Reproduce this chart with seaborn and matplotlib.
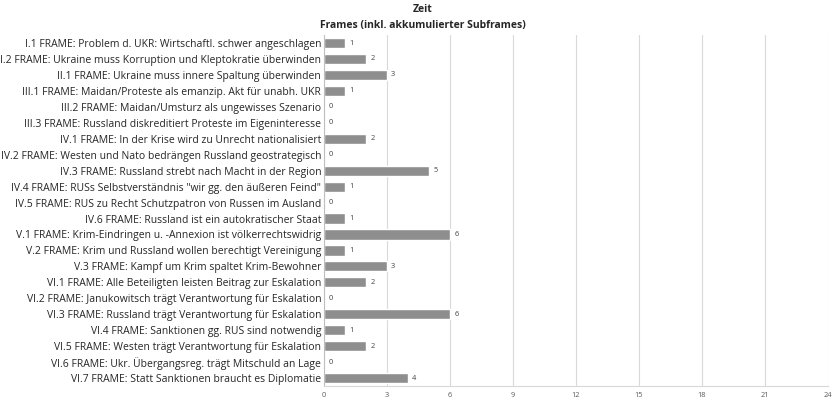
import matplotlib
matplotlib.use("Agg")
import matplotlib.pyplot as plt
import seaborn as sns
import pandas as pd

frames = [
    "I.1 FRAME: Problem d. UKR: Wirtschaftl. schwer angeschlagen",
    "I.2 FRAME: Ukraine muss Korruption und Kleptokratie überwinden",
    "II.1 FRAME: Ukraine muss innere Spaltung überwinden",
    "III.1 FRAME: Maidan/Proteste als emanzip. Akt für unabh. UKR",
    "III.2 FRAME: Maidan/Umsturz als ungewisses Szenario",
    "III.3 FRAME: Russland diskreditiert Proteste im Eigeninteresse",
    "IV.1 FRAME: In der Krise wird zu Unrecht nationalisiert",
    "IV.2 FRAME: Westen und Nato bedrängen Russland geostrategisch",
    "IV.3 FRAME: Russland strebt nach Macht in der Region",
    "IV.4 FRAME: RUSs Selbstverständnis \"wir gg. den äußeren Feind\"",
    "IV.5 FRAME: RUS zu Recht Schutzpatron von Russen im Ausland",
    "IV.6 FRAME: Russland ist ein autokratischer Staat",
    "V.1 FRAME: Krim-Eindringen u. -Annexion ist völkerrechtswidrig",
    "V.2 FRAME: Krim und Russland wollen berechtigt Vereinigung",
    "V.3 FRAME: Kampf um Krim spaltet Krim-Bewohner",
    "VI.1 FRAME: Alle Beteiligten leisten Beitrag zur Eskalation",
    "VI.2 FRAME: Janukowitsch trägt Verantwortung für Eskalation",
    "VI.3 FRAME: Russland trägt Verantwortung für Eskalation",
    "VI.4 FRAME: Sanktionen gg. RUS sind notwendig",
    "VI.5 FRAME: Westen trägt Verantwortung für Eskalation",
    "VI.6 FRAME: Ukr. Übergangsreg. trägt Mitschuld an Lage",
    "VI.7 FRAME: Statt Sanktionen braucht es Diplomatie",
]
counts = [1, 2, 3, 1, 0, 0, 2, 0, 5, 1, 0, 1, 6, 1, 3, 2, 0, 6, 1, 2, 0, 4]
x_ticks = [0, 3, 6, 9, 12, 15, 18, 21, 24]

df = pd.DataFrame({"Frame": frames, "Anzahl": counts})

sns.set_style("white")
plt.rcParams["font.family"] = ["Open Sans", "DejaVu Sans"]

fig = plt.figure(figsize=(8.35, 3.98), dpi=100)
ax = fig.add_axes([0.388, 0.030, 0.6036, 0.882])

sns.barplot(data=df, x="Anzahl", y="Frame", orient="h", color="#8e8e8e",
            saturation=1, width=0.64, ax=ax)

ax.bar_label(ax.containers[0], labels=[str(v) for v in counts],
             padding=3, fontsize=5.3, color="#404040")

ax.set_xlim(0, 24)
ax.set_xticks(x_ticks)
ax.set_xticklabels([str(t) for t in x_ticks], fontsize=5.3, color="#595959")
ax.tick_params(axis="y", labelsize=7.5, colors="#262626", length=0, pad=2)
ax.tick_params(axis="x", length=0, pad=4)
ax.set_xlabel("")
ax.set_ylabel("")
ax.grid(axis="x", color="#d9d9d9", linewidth=0.8)
ax.set_axisbelow(True)
for side in ["top", "right"]:
    ax.spines[side].set_visible(False)
ax.spines["left"].set_color("#bfbfbf")
ax.spines["left"].set_linewidth(0.8)
ax.spines["bottom"].set_color("#d9d9d9")
ax.spines["bottom"].set_linewidth(0.8)

fig.text(0.506, 0.975, "Zeit", ha="center", va="center",
         fontsize=7.5, fontweight="bold", color="#262626")
fig.text(0.506, 0.937, "Frames (inkl. akkumulierter Subframes)", ha="center",
         va="center", fontsize=7.5, fontweight="bold", color="#262626")

fig.savefig("out.png", dpi=100)
